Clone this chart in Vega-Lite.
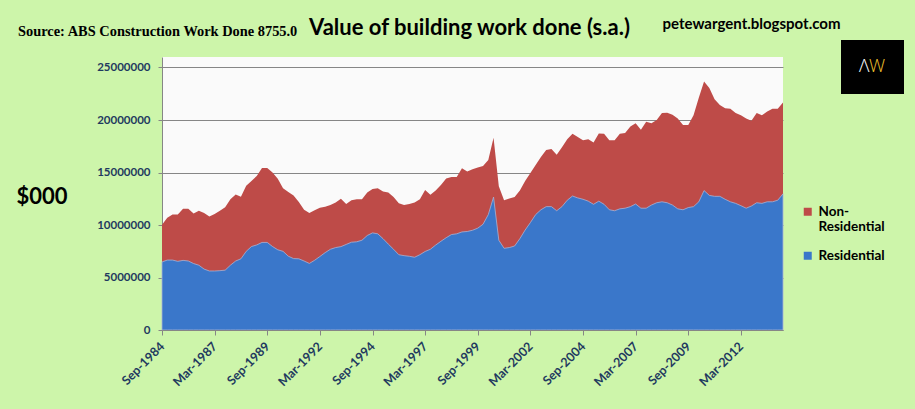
{
"$schema": "https://vega.github.io/schema/vega-lite/v6.json",
"autosize": "none",
"width": 621,
"height": 273,
"padding": {"left": 162, "top": 57, "right": 132, "bottom": 79},
"background": "#CDF5AA",
"config": {"view": {"fill": "#FAFAFA", "stroke": null}},
"title": {"text": "Value of building work done (s.a.)", "font": "Lato", "fontSize": 22, "fontWeight": "bold", "color": "#000000", "offset": -24, "dx": -3},
"data": {"values": [
{"Quarter":"Sep-1984","Total":10020000,"Residential":6480000},
{"Quarter":"Dec-1984","Total":10700000,"Residential":6660000},
{"Quarter":"Mar-1985","Total":11000000,"Residential":6660000},
{"Quarter":"Jun-1985","Total":11000000,"Residential":6540000},
{"Quarter":"Sep-1985","Total":11550000,"Residential":6630000},
{"Quarter":"Dec-1985","Total":11550000,"Residential":6570000},
{"Quarter":"Mar-1986","Total":11100000,"Residential":6330000},
{"Quarter":"Jun-1986","Total":11350000,"Residential":6170000},
{"Quarter":"Sep-1986","Total":11150000,"Residential":5800000},
{"Quarter":"Dec-1986","Total":10800000,"Residential":5620000},
{"Quarter":"Mar-1987","Total":11050000,"Residential":5620000},
{"Quarter":"Jun-1987","Total":11350000,"Residential":5650000},
{"Quarter":"Sep-1987","Total":11700000,"Residential":5700000},
{"Quarter":"Dec-1987","Total":12450000,"Residential":6170000},
{"Quarter":"Mar-1988","Total":12900000,"Residential":6570000},
{"Quarter":"Jun-1988","Total":12700000,"Residential":6780000},
{"Quarter":"Sep-1988","Total":13750000,"Residential":7490000},
{"Quarter":"Dec-1988","Total":14200000,"Residential":7950000},
{"Quarter":"Mar-1989","Total":14670000,"Residential":8100000},
{"Quarter":"Jun-1989","Total":15430000,"Residential":8340000},
{"Quarter":"Sep-1989","Total":15430000,"Residential":8340000},
{"Quarter":"Dec-1989","Total":15000000,"Residential":7950000},
{"Quarter":"Mar-1990","Total":14400000,"Residential":7640000},
{"Quarter":"Jun-1990","Total":13500000,"Residential":7490000},
{"Quarter":"Sep-1990","Total":13150000,"Residential":7030000},
{"Quarter":"Dec-1990","Total":12800000,"Residential":6800000},
{"Quarter":"Mar-1991","Total":12200000,"Residential":6780000},
{"Quarter":"Jun-1991","Total":11450000,"Residential":6570000},
{"Quarter":"Sep-1991","Total":11150000,"Residential":6340000},
{"Quarter":"Dec-1991","Total":11400000,"Residential":6640000},
{"Quarter":"Mar-1992","Total":11650000,"Residential":7000000},
{"Quarter":"Jun-1992","Total":11750000,"Residential":7370000},
{"Quarter":"Sep-1992","Total":11900000,"Residential":7690000},
{"Quarter":"Dec-1992","Total":12150000,"Residential":7850000},
{"Quarter":"Mar-1993","Total":12500000,"Residential":7940000},
{"Quarter":"Jun-1993","Total":12000000,"Residential":8150000},
{"Quarter":"Sep-1993","Total":12360000,"Residential":8360000},
{"Quarter":"Dec-1993","Total":12450000,"Residential":8400000},
{"Quarter":"Mar-1994","Total":12450000,"Residential":8550000},
{"Quarter":"Jun-1994","Total":13100000,"Residential":9000000},
{"Quarter":"Sep-1994","Total":13430000,"Residential":9250000},
{"Quarter":"Dec-1994","Total":13500000,"Residential":9160000},
{"Quarter":"Mar-1995","Total":13190000,"Residential":8700000},
{"Quarter":"Jun-1995","Total":13100000,"Residential":8180000},
{"Quarter":"Sep-1995","Total":12660000,"Residential":7690000},
{"Quarter":"Dec-1995","Total":12060000,"Residential":7170000},
{"Quarter":"Mar-1996","Total":11900000,"Residential":7080000},
{"Quarter":"Jun-1996","Total":12000000,"Residential":7020000},
{"Quarter":"Sep-1996","Total":12150000,"Residential":6930000},
{"Quarter":"Dec-1996","Total":12450000,"Residential":7170000},
{"Quarter":"Mar-1997","Total":13340000,"Residential":7480000},
{"Quarter":"Jun-1997","Total":12880000,"Residential":7690000},
{"Quarter":"Sep-1997","Total":13280000,"Residential":8090000},
{"Quarter":"Dec-1997","Total":13800000,"Residential":8450000},
{"Quarter":"Mar-1998","Total":14440000,"Residential":8790000},
{"Quarter":"Jun-1998","Total":14560000,"Residential":9090000},
{"Quarter":"Sep-1998","Total":14560000,"Residential":9160000},
{"Quarter":"Dec-1998","Total":15410000,"Residential":9340000},
{"Quarter":"Mar-1999","Total":15100000,"Residential":9380000},
{"Quarter":"Jun-1999","Total":15300000,"Residential":9500000},
{"Quarter":"Sep-1999","Total":15470000,"Residential":9700000},
{"Quarter":"Dec-1999","Total":15630000,"Residential":10070000},
{"Quarter":"Mar-2000","Total":16180000,"Residential":10990000},
{"Quarter":"Jun-2000","Total":18300000,"Residential":12660000},
{"Quarter":"Sep-2000","Total":13700000,"Residential":8550000},
{"Quarter":"Dec-2000","Total":12360000,"Residential":7780000},
{"Quarter":"Mar-2001","Total":12520000,"Residential":7850000},
{"Quarter":"Jun-2001","Total":12660000,"Residential":8000000},
{"Quarter":"Sep-2001","Total":13280000,"Residential":8700000},
{"Quarter":"Dec-2001","Total":14190000,"Residential":9520000},
{"Quarter":"Mar-2002","Total":14960000,"Residential":10230000},
{"Quarter":"Jun-2002","Total":15720000,"Residential":10990000},
{"Quarter":"Sep-2002","Total":16480000,"Residential":11450000},
{"Quarter":"Dec-2002","Total":17150000,"Residential":11750000},
{"Quarter":"Mar-2003","Total":17250000,"Residential":11750000},
{"Quarter":"Jun-2003","Total":16700000,"Residential":11360000},
{"Quarter":"Sep-2003","Total":17400000,"Residential":11750000},
{"Quarter":"Dec-2003","Total":18160000,"Residential":12360000},
{"Quarter":"Mar-2004","Total":18680000,"Residential":12760000},
{"Quarter":"Jun-2004","Total":18380000,"Residential":12580000},
{"Quarter":"Sep-2004","Total":18070000,"Residential":12450000},
{"Quarter":"Dec-2004","Total":18160000,"Residential":12270000},
{"Quarter":"Mar-2005","Total":17860000,"Residential":11970000},
{"Quarter":"Jun-2005","Total":18710000,"Residential":12270000},
{"Quarter":"Sep-2005","Total":18680000,"Residential":11970000},
{"Quarter":"Dec-2005","Total":18070000,"Residential":11450000},
{"Quarter":"Mar-2006","Total":18070000,"Residential":11360000},
{"Quarter":"Jun-2006","Total":18680000,"Residential":11540000},
{"Quarter":"Sep-2006","Total":18770000,"Residential":11600000},
{"Quarter":"Dec-2006","Total":19380000,"Residential":11750000},
{"Quarter":"Mar-2007","Total":19690000,"Residential":12000000},
{"Quarter":"Jun-2007","Total":19080000,"Residential":11600000},
{"Quarter":"Sep-2007","Total":19840000,"Residential":11600000},
{"Quarter":"Dec-2007","Total":19690000,"Residential":11900000},
{"Quarter":"Mar-2008","Total":19990000,"Residential":12120000},
{"Quarter":"Jun-2008","Total":20670000,"Residential":12210000},
{"Quarter":"Sep-2008","Total":20700000,"Residential":12120000},
{"Quarter":"Dec-2008","Total":20510000,"Residential":11900000},
{"Quarter":"Mar-2009","Total":20150000,"Residential":11540000},
{"Quarter":"Jun-2009","Total":19530000,"Residential":11450000},
{"Quarter":"Sep-2009","Total":19530000,"Residential":11660000},
{"Quarter":"Dec-2009","Total":20450000,"Residential":11750000},
{"Quarter":"Mar-2010","Total":22130000,"Residential":12210000},
{"Quarter":"Jun-2010","Total":23660000,"Residential":13280000},
{"Quarter":"Sep-2010","Total":23050000,"Residential":12820000},
{"Quarter":"Dec-2010","Total":21980000,"Residential":12730000},
{"Quarter":"Mar-2011","Total":21430000,"Residential":12730000},
{"Quarter":"Jun-2011","Total":21130000,"Residential":12450000},
{"Quarter":"Sep-2011","Total":21060000,"Residential":12210000},
{"Quarter":"Dec-2011","Total":20670000,"Residential":12060000},
{"Quarter":"Mar-2012","Total":20450000,"Residential":11840000},
{"Quarter":"Jun-2012","Total":20150000,"Residential":11600000},
{"Quarter":"Sep-2012","Total":19930000,"Residential":11810000},
{"Quarter":"Dec-2012","Total":20670000,"Residential":12120000},
{"Quarter":"Mar-2013","Total":20450000,"Residential":12060000},
{"Quarter":"Jun-2013","Total":20820000,"Residential":12210000},
{"Quarter":"Sep-2013","Total":21060000,"Residential":12210000},
{"Quarter":"Dec-2013","Total":21060000,"Residential":12360000},
{"Quarter":"Mar-2014","Total":21670000,"Residential":12970000}
]},
"encoding": {
  "x": {"field": "Quarter", "type": "ordinal", "sort": null,
        "scale": {"type": "point", "padding": 0},
        "axis": {"values": ["Sep-1984","Mar-1987","Sep-1989","Mar-1992","Sep-1994","Mar-1997","Sep-1999","Mar-2002","Sep-2004","Mar-2007","Sep-2009","Mar-2012"],
                 "labelAngle": -45, "labelAlign": "right", "labelBaseline": "middle",
                 "labelFont": "Lato", "labelFontWeight": "bold", "labelFontSize": 12.5, "labelColor": "#1F3A5F",
                 "labelPadding": 9, "tickSize": 5, "tickColor": "#868686", "domainColor": "#868686", "grid": false, "zindex": 1,
                 "title": "Source: ABS Construction Work Done 8755.0", "titleFont": "Liberation Serif", "titleFontWeight": "bold",
                 "titleFontSize": 14.4, "titleColor": "#000000", "titleX": -144.5, "titleY": -295, "titleAlign": "left", "titleBaseline": "alphabetic", "titleAngle": 0}}
},
"layer": [
  {"mark": {"type": "area", "opacity": 1},
   "encoding": {
     "y": {"field": "Total", "type": "quantitative", "scale": {"domain": [0, 25000000]},
           "axis": {"values": [0, 5000000, 10000000, 15000000, 20000000, 25000000], "format": "d",
                    "labelFont": "Lato", "labelFontWeight": "bold", "labelFontSize": 11.5, "labelColor": "#1F3A5F", "labelPadding": 8,
                    "tickSize": 4, "tickColor": "#868686", "domainColor": "#868686", "gridColor": "#868686", "gridOpacity": 1,
                    "title": "$000", "titleFont": "Lato", "titleFontSize": 22, "titleFontWeight": "bold", "titleColor": "#000000",
                    "titleAngle": 0, "titleX": -120.5, "titleY": 139, "titleAlign": "center", "titleBaseline": "middle"}},
     "color": {"datum": "Non-Residential",
               "scale": {"domain": ["Non-Residential", "Residential"], "range": ["#BE4B48", "#3A77CA"]},
               "legend": {"orient": "none", "legendX": 639, "legendY": 148, "title": null, "symbolType": "square", "symbolSize": 64,
                          "symbolStrokeWidth": 0, "labelFont": "Lato", "labelFontWeight": "bold", "labelFontSize": 13.5, "labelColor": "#000000",
                          "labelExpr": "datum.label == 'Non-Residential' ? ['Non-', 'Residential'] : datum.label",
                          "rowPadding": 14, "labelOffset": 4}}
   }},
  {"mark": {"type": "area", "stroke": "#A8B2D4", "strokeWidth": 0.8},
   "encoding": {
     "y": {"field": "Residential", "type": "quantitative",
           "axis": {"orient": "right", "labels": false, "ticks": false, "domain": false, "grid": false,
                    "title": "petewargent.blogspot.com", "titleAngle": 0, "titleFont": "Lato", "titleFontWeight": "bold", "titleFontSize": 15,
                    "titleColor": "#000000", "titleX": -32, "titleY": -34, "titleAlign": "center", "titleBaseline": "middle"}},
     "color": {"datum": "Residential"},
     "opacity": {"datum": "W", "type": "ordinal", "scale": {"range": [1]},
                 "legend": {"orient": "none", "legendX": 679, "legendY": -17, "title": "Λ", "titleOrient": "left",
                            "titleColor": "#FFFFFF", "titleFont": "Open Sans", "titleFontWeight": 300, "titleFontSize": 18, "titlePadding": -7,
                            "labelColor": "#F2C12E", "labelFont": "Open Sans", "labelFontWeight": 300, "labelFontSize": 18, "labelOffset": -12,
                            "symbolSize": 0, "symbolStrokeWidth": 0, "fillColor": "#000000", "padding": 18}}
   }}
],
"resolve": {"axis": {"y": "independent"}}
}
